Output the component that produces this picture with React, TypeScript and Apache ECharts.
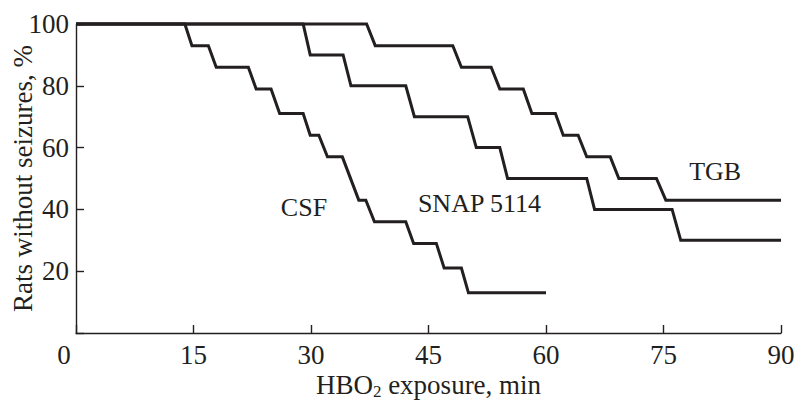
import React, { useEffect, useRef } from "react";
import * as echarts from "echarts";

const FONT = "'Liberation Serif', 'Times New Roman', serif";
const INK = "#231f20";

// x-axis ticks (min) and y-axis ticks (%)
const xTicks = [0, 15, 30, 45, 60, 75, 90];
const yTicks = [0, 20, 40, 60, 80, 100];

// CSF: each drop starts at csfStart[i], ends at csfEnd[i] at level csfLevel[i]
const csfStart = [13.9, 16.9, 22.0, 24.9, 29.0, 31.0, 34.0, 37.0, 42.1, 46.0, 49.2];
const csfEnd = [14.8, 17.9, 23.0, 26.0, 29.9, 32.1, 36.1, 38.1, 43.1, 47.0, 50.1];
const csfLevel = [93, 86, 79, 71, 64, 57, 43, 36, 29, 21, 13];
const csfLast = 60;

// SNAP 5114
const snapStart = [29.0, 34.1, 42.1, 50.0, 54.1, 65.2, 76.1];
const snapEnd = [29.9, 35.1, 43.2, 51.1, 55.1, 66.2, 77.2];
const snapLevel = [90, 80, 70, 60, 50, 40, 30];
const snapLast = 90;

// TGB
const tgbStart = [37.1, 48.1, 53.0, 57.1, 61.2, 64.1, 68.2, 74.1];
const tgbEnd = [38.2, 49.2, 54.1, 58.2, 62.2, 65.2, 69.3, 75.3];
const tgbLevel = [93, 86, 79, 71, 64, 57, 50, 43];
const tgbLast = 90;

function curve(starts: number[], ends: number[], levels: number[], last: number) {
  const pts: number[][] = [[0, 100]];
  let prev = 100;
  for (let i = 0; i < starts.length; i++) {
    pts.push([starts[i], prev]);
    pts.push([ends[i], levels[i]]);
    prev = levels[i];
  }
  pts.push([last, prev]);
  return pts;
}

function labelPoint(name: string, coord: number[]) {
  return {
    symbol: "circle",
    symbolSize: 0,
    silent: true,
    label: {
      show: true,
      position: "inside",
      formatter: name,
      color: INK,
      fontSize: 26,
      fontFamily: FONT,
    },
    data: [{ coord }],
  };
}

export default function App() {
  const ref = useRef<HTMLDivElement>(null);
  useEffect(() => {
    if (!ref.current) return;
    const chart = echarts.init(ref.current, undefined, { renderer: "svg" });
    const lineSeries = (name: string, data: number[][], mp: any) => ({
      type: "line",
      name,
      data,
      showSymbol: false,
      clip: false,
      lineStyle: { color: INK, width: 3, join: "miter" },
      itemStyle: { color: INK },
      markPoint: mp,
    });
    chart.setOption({
      animation: false,
      backgroundColor: "#ffffff",
      grid: {
        left: 76,
        right: 16,
        top: 24,
        bottom: 69,
        containLabel: false,
        outerBoundsMode: "none",
      },
      xAxis: {
        type: "value",
        min: xTicks[0],
        max: xTicks[xTicks.length - 1],
        interval: 15,
        name: "{n|HBO}{s|2}{n| exposure, min}",
        nameLocation: "middle",
        nameGap: 37,
        nameMoveOverlap: false,
        nameTextStyle: {
          color: INK,
          fontFamily: FONT,
          rich: {
            n: { fontSize: 27, fontFamily: FONT, color: INK, lineHeight: 30, verticalAlign: "middle" },
            s: { fontSize: 17, fontFamily: FONT, color: INK, lineHeight: 18, verticalAlign: "bottom" },
          },
        },
        axisLine: { show: true, lineStyle: { color: INK, width: 1.4 } },
        axisTick: { show: true, inside: true, length: 8, lineStyle: { color: INK, width: 1.4 } },
        axisLabel: {
          color: INK,
          fontSize: 27,
          fontFamily: FONT,
          margin: 8,
          formatter: (v: number) => (v === 0 ? "{z|0}" : String(v)),
          rich: { z: { fontSize: 27, fontFamily: FONT, color: INK, padding: [0, 24, 0, 0] } },
        },
        splitLine: { show: false },
      },
      yAxis: {
        type: "value",
        min: yTicks[0],
        max: yTicks[yTicks.length - 1],
        interval: 20,
        name: "Rats without seizures, %",
        nameLocation: "middle",
        nameGap: 40,
        nameMoveOverlap: false,
        nameTextStyle: { color: INK, fontSize: 27, fontFamily: FONT },
        axisLine: { show: true, lineStyle: { color: INK, width: 1.4 } },
        axisTick: { show: true, inside: true, length: 8, lineStyle: { color: INK, width: 1.4 } },
        axisLabel: {
          color: INK,
          fontSize: 27,
          fontFamily: FONT,
          margin: 7,
          formatter: (v: number) => (v === 0 ? "" : String(v)),
        },
        splitLine: { show: false },
      },
      series: [
        lineSeries("CSF", curve(csfStart, csfEnd, csfLevel, csfLast), labelPoint("CSF", [29.1, 40.5])),
        lineSeries("SNAP 5114", curve(snapStart, snapEnd, snapLevel, snapLast), labelPoint("SNAP 5114", [51.5, 42.0])),
        lineSeries("TGB", curve(tgbStart, tgbEnd, tgbLevel, tgbLast), labelPoint("TGB", [81.6, 52.2])),
      ],
    });
    return () => chart.dispose();
  }, []);
  return (
    <div
      ref={ref}
      style={{ position: "absolute", left: 0, top: 0, width: 797, height: 402, background: "#fff" }}
    />
  );
}
